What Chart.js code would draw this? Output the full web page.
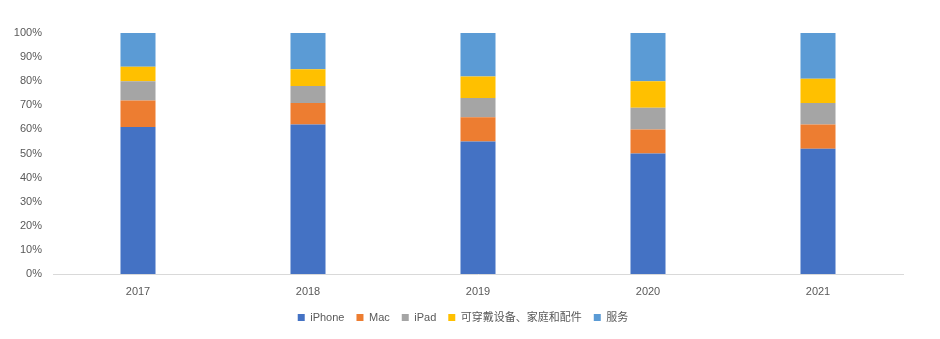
<!DOCTYPE html>
<html>
<head>
<meta charset="utf-8">
<script src="https://cdn.jsdelivr.net/npm/chart.js@4/dist/chart.umd.min.js"></script>
<style>
  html, body { margin: 0; padding: 0; background: #ffffff; }
  #wrap { width: 940px; height: 339px; }
</style>
</head>
<body>
<div id="wrap"><canvas id="c" width="940" height="339"></canvas></div>
<script>
// Revenue share by product line, per fiscal year (percent of total)
const years = ['2017', '2018', '2019', '2020', '2021'];
const iphone   = [61, 62, 55, 50, 52];
const mac      = [11, 9, 10, 10, 10];
const ipad     = [8, 7, 8, 9, 9];
const wearable = [6, 7, 9, 11, 10];
const services = [14, 15, 18, 20, 19];

const seriesNames  = ['iPhone', 'Mac', 'iPad', '可穿戴设备、家庭和配件', '服务'];
const seriesColors = ['#4472c4', '#ed7d31', '#a5a5a5', '#ffc000', '#5b9bd5'];
const seriesData   = [iphone, mac, ipad, wearable, services];

const fontFamily = '"Liberation Sans", "Noto Sans CJK SC", sans-serif';
const textColor = '#595959';

new Chart(document.getElementById('c'), {
  type: 'bar',
  data: {
    labels: years,
    datasets: seriesData.map((d, i) => ({
      label: seriesNames[i],
      data: d,
      backgroundColor: seriesColors[i],
      borderWidth: 0,
      categoryPercentage: 1,
      barPercentage: 0.206
    }))
  },
  options: {
    responsive: false,
    animation: false,
    layout: { padding: { top: 33, right: 14, left: 0, bottom: 6 } },
    plugins: {
      legend: {
        position: 'bottom',
        labels: {
          boxWidth: 7,
          boxHeight: 7,
          padding: 12,
          color: textColor,
          font: { family: fontFamily, size: 11 }
        }
      },
      tooltip: { enabled: false }
    },
    scales: {
      x: {
        stacked: true,
        afterFit: (scale) => { scale.height = 26; },
        grid: { display: false, drawTicks: false },
        border: { display: true, color: '#d9d9d9', width: 1 },
        ticks: { color: textColor, padding: 11, font: { family: fontFamily, size: 11 } }
      },
      y: {
        stacked: true,
        min: 0,
        max: 100,
        afterFit: (scale) => { scale.width = 53; },
        grid: { display: false, drawTicks: false },
        border: { display: false },
        ticks: {
          stepSize: 10,
          padding: 11,
          color: textColor,
          font: { family: fontFamily, size: 11 },
          callback: (v) => v + '%'
        }
      },
      // empty spacer on the right so the legend sits centred under the plot
      yRight: {
        position: 'right',
        min: 0,
        max: 100,
        afterFit: (scale) => { scale.width = 23; },
        grid: { display: false, drawTicks: false },
        border: { display: false },
        ticks: { display: false }
      }
    }
  }
});
</script>
</body>
</html>
